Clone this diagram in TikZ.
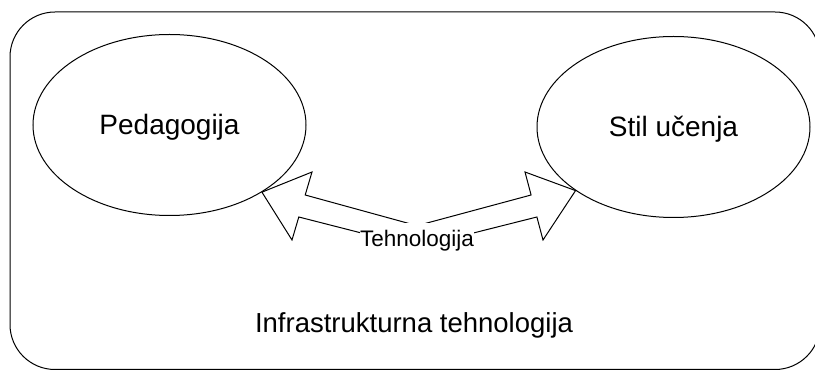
\documentclass[tikz,border=0pt]{standalone}
\usepackage{fontspec}
\setmainfont{Liberation Sans}
\usetikzlibrary{shapes.geometric}
\begin{document}
\begin{tikzpicture}[x=1pt,y=-1pt, line width=1pt,
  bubble/.style={ellipse, draw, minimum width=273pt, minimum height=181pt, inner sep=0pt,
    font=\fontsize{28}{30}\selectfont, text height=24pt, text depth=4pt},
  frame/.style={draw, rounded corners=45pt},
  blockarrow/.style={draw, fill=white, line join=miter},
  techlbl/.style={fill=white, inner sep=0pt, anchor=base, text height=23.5pt, text depth=5pt,
    font=\fontsize{22.5}{24}\selectfont},
  lbl/.style={inner sep=0pt, anchor=base, font=\fontsize{27.5}{30}\selectfont}]
\useasboundingbox (0,0) rectangle (815,371);
\draw[frame] (10,12) rectangle (820,369.5);
\node[bubble] (ped) at (169.5,125) {Pedagogija};
\node[bubble] (stil) at (673.5,127) {Stil učenja};
\coordinate (tl) at (ped.-36);
\coordinate (tr) at (stil.213);
\draw[blockarrow] (tl) -- (312,172) -- (305.2,195) -- (417,225.7) -- (531.1,195) -- (525,172)
  -- (tr) -- (543,240) -- (536.9,217) -- (417,247.2) -- (298.8,217) -- (292,240) -- cycle;
\node[techlbl] (tech) at (417,247) {Tehnologija};
\node[lbl] (infra) at (414,333) {Infrastrukturna tehnologija};
\end{tikzpicture}
\end{document}
